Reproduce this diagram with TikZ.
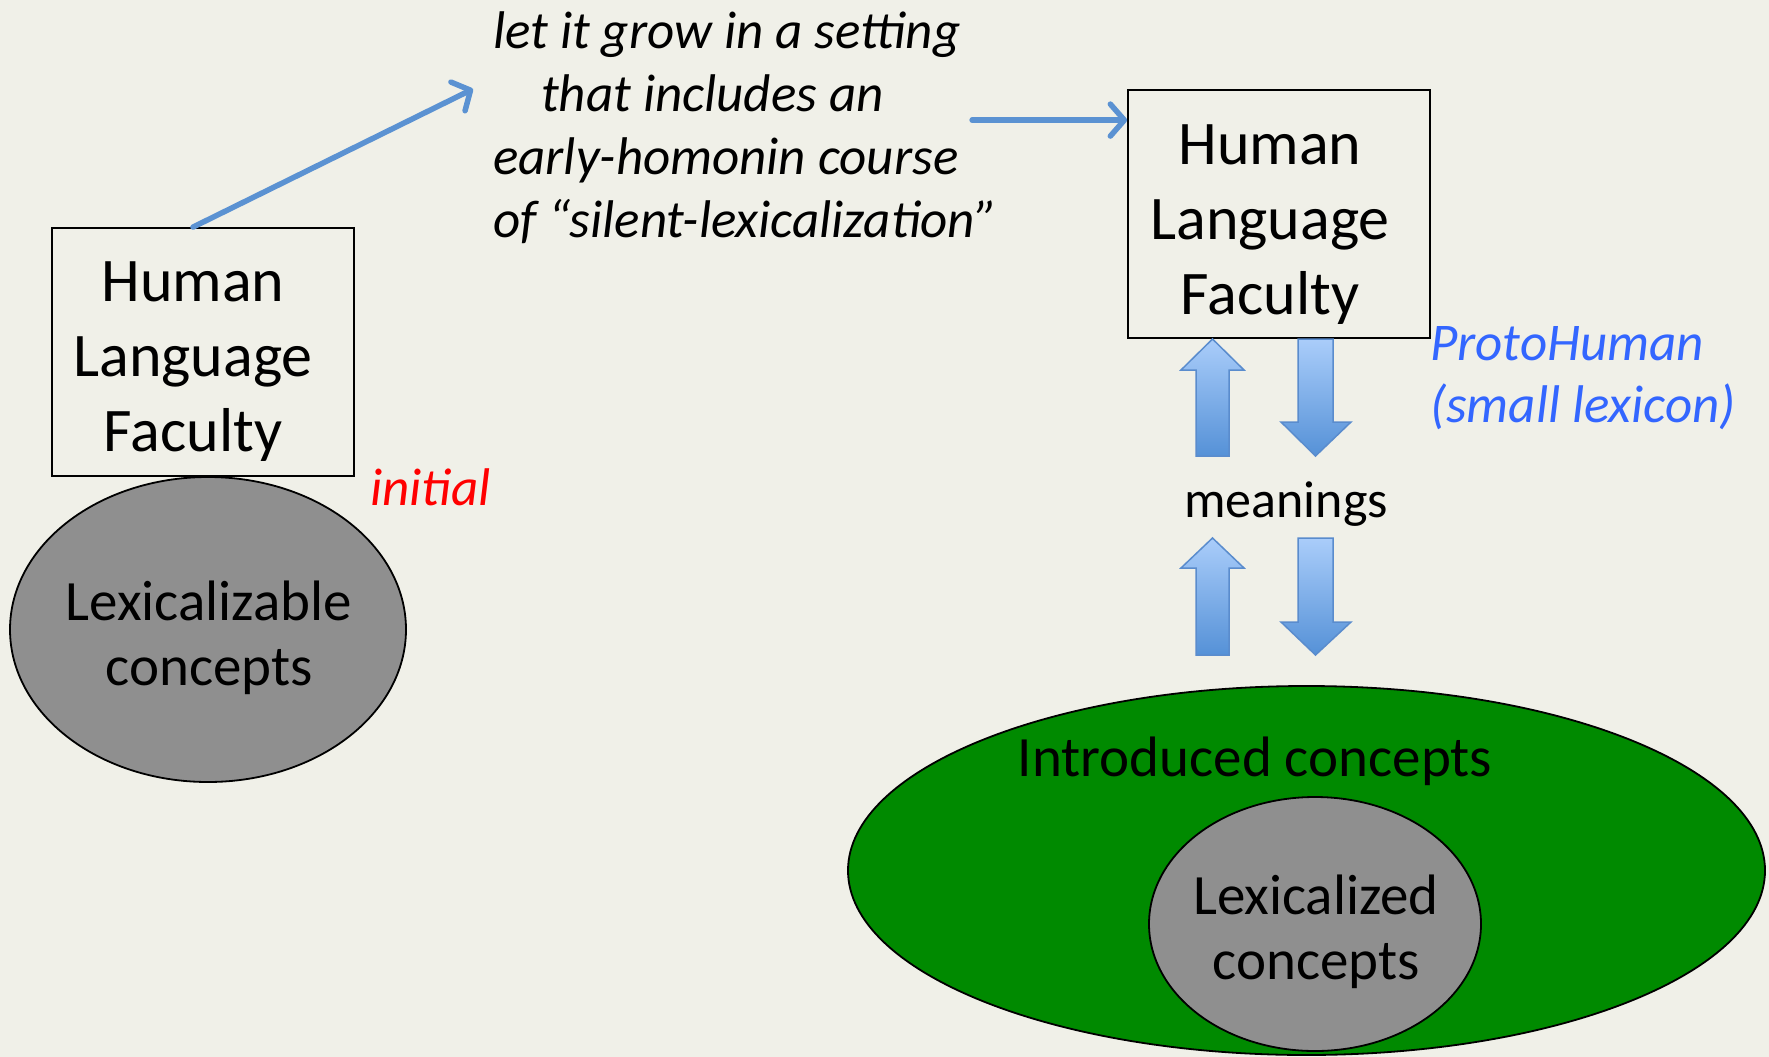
\documentclass[tikz,border=0pt]{standalone}
\usepackage{fontspec}
\setmainfont{Carlito}
\usetikzlibrary{arrows.meta,shapes.geometric,calc}
\definecolor{bg}{RGB}{240,240,232}
\definecolor{lexgray}{RGB}{143,143,143}
\definecolor{intgreen}{RGB}{0,138,0}
\definecolor{linkblue}{RGB}{91,146,210}
\definecolor{protoblue}{RGB}{51,102,255}
\definecolor{blocktop}{RGB}{170,205,250}
\definecolor{blockbot}{RGB}{85,145,215}
\definecolor{blockedge}{RGB}{90,140,205}
\begin{document}
\begin{tikzpicture}[x=1pt,y=-1pt,
  facbox/.style={draw=black,line width=1.8pt,inner sep=0pt},
  factext/.style={font=\fontsize{62}{75}\selectfont,align=center,inner sep=0pt},
  conctext/.style={font=\fontsize{57}{65}\selectfont,align=center,inner sep=0pt},
  blob/.style={ellipse,draw=black,line width=1.8pt,inner sep=0pt},
  link/.style={draw=linkblue,line width=5.5pt,line cap=round,-{Straight Barb[length=14pt,width=32pt,round]}},
  blockarrow/.style={draw=blockedge,line width=1.5pt,top color=blocktop,bottom color=blockbot,line join=miter},
  note/.style={font=\fontsize{53}{63}\selectfont\itshape,inner sep=0pt,align=left}]

\fill[bg] (0,0) rectangle (1769,1057);
\useasboundingbox (0,0) rectangle (1769,1057);

% left part
\node[blob,fill=lexgray,minimum width=396pt,minimum height=305pt] (lexable) at (208,629.5) {};
\node[facbox,minimum width=302pt,minimum height=248pt] (lbox) at (203,352) {};
\node[factext,anchor=north] (ltext) at (193,262) {Human\\Language\\Faculty};
\node[conctext,anchor=north] (lextext) at (209,581) {Lexicalizable\\concepts};
\node[note,text=red,anchor=base west] (initial) at (370,505) {initial};

% middle text
\node[note,anchor=north west] (grow) at (493,11) {let it grow in a setting\\\hspace*{48pt}that includes an\\early-homonin course\\of “silent-lexicalization”};

% right part
\node[facbox,minimum width=302pt,minimum height=248pt] (rbox) at (1279,214) {};
\node[factext,anchor=north] (rtext) at (1270,125) {Human\\Language\\Faculty};
\node[note,text=protoblue,anchor=north west,font=\fontsize{53}{62}\selectfont\itshape] (proto) at (1430,326) {ProtoHuman\\(small lexicon)};
\node[font=\fontsize{52}{61}\selectfont,inner sep=0pt,anchor=base] (meanings) at (1286,517) {meanings};

\node[blob,fill=intgreen,minimum width=917pt,minimum height=369pt] (introduced) at (1306.5,870.5) {};
\node[blob,fill=lexgray,minimum width=332pt,minimum height=254pt] (lexed) at (1315,924) {};
\node[conctext,anchor=base] (inttext) at (1255,776) {Introduced concepts};
\node[conctext,anchor=north] (lexedtext) at (1316,875) {Lexicalized\\concepts};

% thin arrows
\coordinate (l1s) at ([xshift=-10pt]lbox.north);
\coordinate (l1e) at ($(grow.north west)+(-20,78)$);
\draw[link] (l1s) -- (l1e);
\coordinate (l2s) at ($(rbox.north west)+(-155,31)$);
\coordinate (l2e) at ($(rbox.north west)+(0,31)$);
\draw[link] (l2s) -- (l2e);

% block arrows
\path[blockarrow] (1196,456) -- (1196,370) -- (1181,370) -- (1212.5,339) -- (1244,370) -- (1229,370) -- (1229,456) -- cycle;
\path[blockarrow] (1298,339) -- (1333,339) -- (1333,422) -- (1351,422) -- (1315.5,456) -- (1281,422) -- (1298,422) -- cycle;
\path[blockarrow] (1196,655) -- (1196,568) -- (1181,568) -- (1212.5,538) -- (1244,568) -- (1229,568) -- (1229,655) -- cycle;
\path[blockarrow] (1298,538) -- (1333,538) -- (1333,622) -- (1351,622) -- (1315.5,655) -- (1281,622) -- (1298,622) -- cycle;
\end{tikzpicture}
\end{document}
